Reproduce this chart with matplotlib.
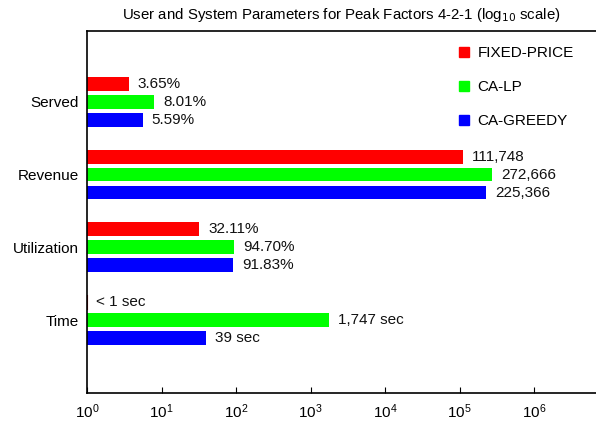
import matplotlib.pyplot as plt
from matplotlib.lines import Line2D

plt.rcParams['font.family'] = ['Liberation Sans', 'DejaVu Sans']

# grupos de baixo para cima
grupos = ['Time', 'Utilization', 'Revenue', 'Served']
series = ['FIXED-PRICE', 'CA-LP', 'CA-GREEDY']
cores = ['#ff0000', '#00ff00', '#0000ff']

fixed_price = [1, 32.11, 111748, 3.65]
ca_lp = [1747, 94.70, 272666, 8.01]
ca_greedy = [39, 91.83, 225366, 5.59]

rot_fixed = ['< 1 sec', '32.11%', '111,748', '3.65%']
rot_lp = ['1,747 sec', '94.70%', '272,666', '8.01%']
rot_greedy = ['39 sec', '91.83%', '225,366', '5.59%']

valores = [fixed_price, ca_lp, ca_greedy]
rotulos = [rot_fixed, rot_lp, rot_greedy]
deslocs = [0.247, 0.0, -0.247]

fig = plt.figure(figsize=(5.96, 4.21), dpi=100)
ax = fig.add_axes([0.146, 0.0665, 0.854, 0.8595])

for vals, rots, cor, d in zip(valores, rotulos, cores, deslocs):
    for i, (v, r) in enumerate(zip(vals, rots)):
        y = i + d
        if v <= 1:
            ax.plot([1, 1], [y - 0.095, y + 0.095], color='#a00000', lw=0.8)
        else:
            ax.barh(y, v - 1, left=1, height=0.19, color=cor, edgecolor='none')
        ax.annotate(r, (v, y), xytext=(6.5, 0), textcoords='offset points',
                    va='center', ha='left', fontsize=11, color='#111111')

ax.set_xscale('log')
ax.set_xlim(1, 10 ** 6.83)
ax.set_ylim(-1.0, 3.97)
ax.set_xticks([10 ** k for k in range(7)])
ax.minorticks_off()
ax.tick_params(axis='x', direction='in', length=4, labelsize=11, pad=7)
ax.set_yticks(range(len(grupos)))
ax.set_yticklabels(grupos, fontsize=11)
ax.tick_params(axis='y', length=0, pad=6)
ax.spines['right'].set_visible(False)
for s in ['left', 'bottom', 'top']:
    ax.spines[s].set_linewidth(1.2)

ax.set_title('User and System Parameters for Peak Factors 4-2-1 (log$_{10}$ scale)',
             fontsize=10.8, pad=9)

alcas = [Line2D([], [], marker='s', linestyle='none', color=c, markersize=7) for c in cores]
ax.legend(alcas, series, loc='upper left', bbox_to_anchor=(0.695, 0.996),
          frameon=False, fontsize=11, labelspacing=1.3, handletextpad=0.3,
          handlelength=1.2)

fig.savefig('out.png', dpi=100)
